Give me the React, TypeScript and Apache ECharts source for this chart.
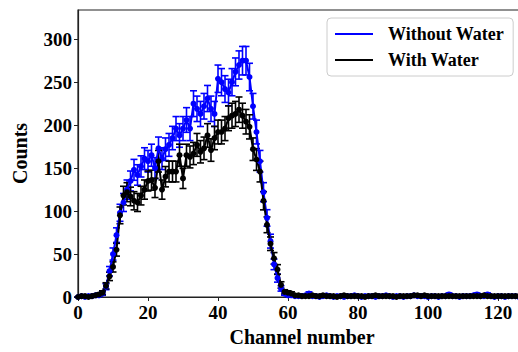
import React, { useEffect, useRef } from "react";
import * as echarts from "echarts";

const channels: number[] = Array.from({ length: 128 }, (_, i) => i);

const withoutWater: number[] = [
  0, 1, 0, 1, 1, 2, 2, 4, 12, 30, 50, 72, 98, 110, 125, 135, 148, 142, 152, 161,
  158, 165, 150, 173, 161, 172, 177, 185, 196, 188, 196, 206, 196, 225, 219, 213, 222, 231, 219, 213,
  254, 250, 242, 238, 250, 262, 270, 275, 275, 256, 222, 192, 158, 122, 92, 65, 38, 22, 10, 4,
  2, 2, 1, 1, 1, 2, 4, 1, 1, 0, 1, 2, 1, 0, 1, 1, 0, 1, 1, 2,
  1, 0, 1, 1, 1, 0, 1, 1, 2, 1, 0, 1, 1, 0, 1, 1, 2, 1, 1, 1,
  0, 1, 1, 0, 1, 1, 3, 1, 1, 0, 1, 1, 1, 2, 3, 1, 1, 3, 1, 0,
  1, 1, 0, 1, 1, 1, 0, 1,
];

const withWater: number[] = [
  0, 1, 1, 0, 1, 2, 3, 5, 13, 24, 35, 55, 95, 118, 122, 117, 112, 110, 118, 125,
  135, 136, 127, 158, 125, 140, 146, 146, 146, 165, 138, 165, 163, 167, 177, 169, 173, 188, 171, 185,
  192, 192, 196, 208, 211, 213, 218, 211, 204, 198, 172, 160, 146, 112, 84, 62, 45, 32, 14, 6,
  5, 4, 2, 2, 1, 1, 1, 2, 1, 1, 2, 1, 1, 1, 0, 1, 2, 1, 1, 1,
  1, 1, 0, 1, 1, 2, 1, 1, 1, 1, 1, 0, 1, 1, 1, 1, 2, 2, 1, 2,
  1, 1, 1, 1, 1, 1, 1, 1, 1, 1, 1, 1, 1, 1, 1, 1, 2, 1, 1, 1,
  1, 1, 1, 1, 1, 1, 1, 1,
];

const xTicks = { min: 0, max: 128, interval: 20 };
const yTicks = { min: 0, max: 334, interval: 50 };

const FONT = "Liberation Serif";

function errData(vals: number[]) {
  return channels.map((c, i) => {
    const v = vals[i];
    const e = Math.sqrt(v);
    return [c, v, Math.max(0, v - e), v + e];
  });
}

function errSeries(name: string, vals: number[], color: string) {
  return {
    type: "custom",
    name,
    data: errData(vals),
    encode: { x: 0, y: [2, 3] },
    silent: true,
    renderItem: (params: any, api: any) => {
      const x = api.value(0);
      const lo = api.coord([x, api.value(2)]);
      const hi = api.coord([x, api.value(3)]);
      const hw = 3.5;
      const style = { stroke: color, lineWidth: 1.6 };
      return {
        type: "group",
        children: [
          { type: "line", shape: { x1: lo[0], y1: lo[1], x2: hi[0], y2: hi[1] }, style },
          { type: "line", shape: { x1: lo[0] - hw, y1: lo[1], x2: lo[0] + hw, y2: lo[1] }, style },
          { type: "line", shape: { x1: hi[0] - hw, y1: hi[1], x2: hi[0] + hw, y2: hi[1] }, style },
        ],
      };
    },
  };
}

function lineSeries(name: string, vals: number[], color: string) {
  return {
    type: "line",
    name,
    data: channels.map((c, i) => [c, vals[i]]),
    symbol: "circle",
    symbolSize: 6,
    showAllSymbol: true,
    lineStyle: { color, width: 2 },
    itemStyle: { color },
  };
}

export default function App() {
  const ref = useRef<HTMLDivElement>(null);
  useEffect(() => {
    if (!ref.current) return;
    const chart = echarts.init(ref.current, null, { renderer: "svg" });
    chart.setOption({
      animation: false,
      backgroundColor: "#fff",
      textStyle: { fontFamily: FONT },
      grid: {
        left: 78,
        top: 10,
        width: 448,
        height: 290,
        show: true,
        borderColor: "#222",
        borderWidth: 1.2,
        backgroundColor: "transparent",
      },
      legend: {
        data: ["Without Water", "With Water"],
        orient: "vertical",
        left: 327,
        top: 18,
        padding: [7, 9, 7, 8],
        itemGap: 8,
        itemWidth: 38,
        itemHeight: 2,
        icon: "rect",
        borderColor: "#ccc",
        borderWidth: 1,
        borderRadius: 4,
        backgroundColor: "#fff",
        textStyle: {
          fontFamily: FONT,
          fontWeight: "bold",
          fontSize: 18,
          color: "#000",
          padding: [0, 0, 0, 10],
        },
      },
      xAxis: {
        type: "value",
        min: xTicks.min,
        max: xTicks.max,
        interval: xTicks.interval,
        name: "Channel number",
        nameLocation: "middle",
        nameGap: 30,
        nameTextStyle: { fontFamily: FONT, fontWeight: "bold", fontSize: 20, color: "#000" },
        axisLine: { show: true, lineStyle: { color: "#222", width: 1.2 } },
        axisTick: { show: true, length: 4, lineStyle: { color: "#222" } },
        axisLabel: {
          fontFamily: FONT,
          fontWeight: "bold",
          fontSize: 19,
          color: "#000",
          margin: 6,
          showMaxLabel: false,
        },
        splitLine: { show: false },
      },
      yAxis: {
        type: "value",
        min: yTicks.min,
        max: yTicks.max,
        interval: yTicks.interval,
        name: "Counts",
        nameLocation: "middle",
        nameGap: 48,
        nameTextStyle: { fontFamily: FONT, fontWeight: "bold", fontSize: 20, color: "#000" },
        axisLine: { show: true, lineStyle: { color: "#222", width: 1.2 } },
        axisTick: { show: true, length: 4, lineStyle: { color: "#222" } },
        axisLabel: {
          fontFamily: FONT,
          fontWeight: "bold",
          fontSize: 19,
          color: "#000",
          margin: 6,
          showMaxLabel: false,
        },
        splitLine: { show: false },
      },
      series: [
        errSeries("err-without", withoutWater, "#0000ff"),
        lineSeries("Without Water", withoutWater, "#0000ff"),
        errSeries("err-with", withWater, "#000000"),
        lineSeries("With Water", withWater, "#000000"),
      ],
    });
    return () => chart.dispose();
  }, []);
  return (
    <div style={{ position: "absolute", left: 0, top: 0, width: 518, height: 352, overflow: "hidden", background: "#fff" }}>
      <div ref={ref} style={{ width: 530, height: 352 }} />
    </div>
  );
}
